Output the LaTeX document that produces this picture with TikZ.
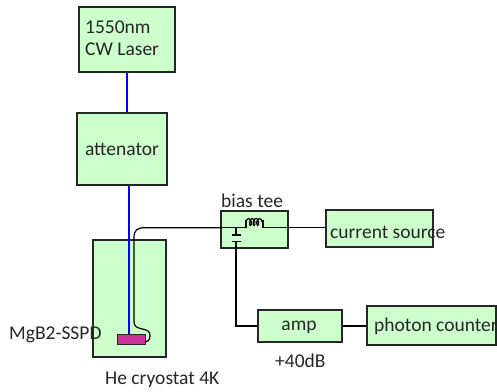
\documentclass[tikz,border=0pt]{standalone}
\usepackage{fontspec}
\setmainfont{Carlito}
\usetikzlibrary{decorations.pathmorphing}
\definecolor{boxgreen}{RGB}{204,255,204}
\definecolor{sspdpink}{RGB}{204,51,153}
\tikzset{
    box/.style = {draw = black!85, fill = boxgreen, line width = 1.5pt, inner sep = 0pt},
    fiber/.style = {draw = blue, line width = 2.5pt},
    wire/.style = {draw = black, line width = 1.2pt},
    txt/.style = {font = \fontsize{19.5}{22}\selectfont, inner sep = 0pt, text = black!85}
}

\begin{document}
\begin{tikzpicture}[x = 1pt, y = -1pt]
    \useasboundingbox (0,0) rectangle (497,391);
    \begin{scope}
        \node[box, minimum width = 96pt, minimum height = 65pt] at (127,39.5) (laser) {};
        \node[box, minimum width = 90pt, minimum height = 72pt] at (122,149) (atten) {};
        \node[box, minimum width = 73pt, minimum height = 117pt] at (129.5,298.5) (cryostat) {};
        \node[box, minimum width = 67pt, minimum height = 37pt] at (254.5,229.5) (tee) {};
        \node[box, minimum width = 107pt, minimum height = 37pt] at (379.5,228.5) (source) {};
        \node[box, minimum width = 84pt, minimum height = 32pt] at (300,326) (amp) {};
        \node[box, minimum width = 129pt, minimum height = 39pt] at (431.5,325.5) (counter) {};
        \node[draw = black!85, fill = sspdpink, line width = 1pt, inner sep = 0pt, minimum width = 28pt, minimum height = 10pt] at (131,339) (sspd) {};
    \end{scope}

    % fibre
    \draw[fiber] (laser.south) -- (laser.south |- atten.north);
    \coordinate (fibertop) at (129,185);
    \draw[fiber] (fibertop |- atten.south) -- (fibertop |- sspd.north);

    % electrical lines
    \coordinate (teeleft) at (tee.west |- 0,227.7);
    \coordinate (coilin) at (246,227.7);
    \coordinate (coilout) at (263,227.7);
    \coordinate (capin) at (236,227.7);
    \draw[wire] (teeleft) -- (145,227.7) .. controls (137,227.7) and (134,230) .. (134,238) -- (134,322)
        .. controls (134,332) and (151,326) .. (150,336) .. controls (149.5,341) and (147,342) .. (sspd.east |- 0,342);
    \draw[wire] (teeleft) -- (coilin) -- (246,220);
    \draw[wire, decorate, decoration = {coil, amplitude = 3.5pt, segment length = 3.6pt}] (246,222) -- (263,222);
    \draw[wire] (263,220) -- (coilout) -- (source.west |- coilout);
    \draw[wire] (capin) -- (236,235);
    \draw[wire] (231.5,235) -- (240.5,235);
    \draw[wire] (231.5,241.5) -- (240.5,241.5);
    \draw[wire] (236,241.5) -- (236,326) -- (amp.west);
    \draw[wire] (amp.east) -- (counter.west |- amp.east);

    % labels
    \node[txt, anchor = west] at (85,27) (laserlabel) {1550nm};
    \node[txt, anchor = west] at (85,49) (laserlabeltwo) {CW Laser};
    \node[txt] at (atten) (attenlabel) {attenator};
    \node[txt, anchor = west] at (221,200.5) (teelabel) {bias tee};
    \node[txt, anchor = west] at (330,232) (sourcelabel) {current source};
    \node[txt] at (299,327) (amplabel) {amp};
    \node[txt, anchor = west] at (374,326) (counterlabel) {photon counter};
    \node[txt, anchor = west] at (275,361) (gainlabel) {+40dB};
    \node[txt, anchor = west] at (9,335) (sspdlabel) {MgB2-SSPD};
    \node[txt, anchor = west] at (105,380) (cryolabel) {He cryostat 4K};
\end{tikzpicture}
\end{document}
